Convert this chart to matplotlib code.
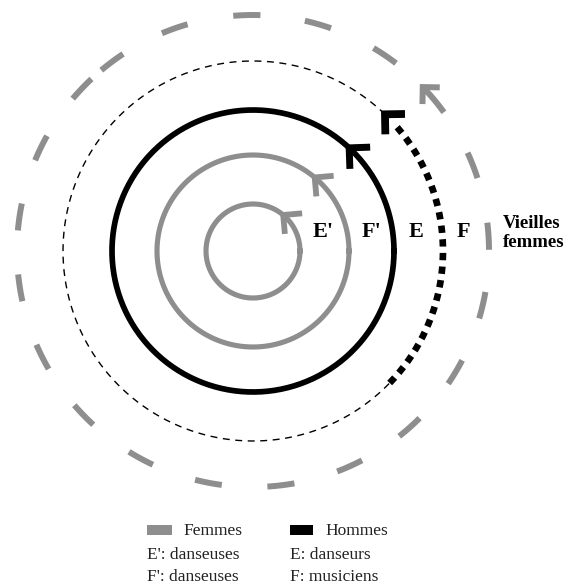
import numpy as np
import matplotlib
matplotlib.use("Agg")
import matplotlib.pyplot as plt
from matplotlib.patches import Rectangle

# rings, from the inside out
ring_labels = ["E'", "F'", "E", "F"]
ring_groups = ["Femmes", "Femmes", "Hommes", "Hommes", "Vieilles femmes"]
ring_radius = [47, 96, 141, 190, 236]
arrow_angle = [50, 50, 47, 46, 44]  # where the chevron sits (deg)

# outer broken ring (vieilles femmes): dash centres (deg)
outer_dashes = [91.5, 109.4, 126.7, 136.5, 154.1, 171.7, 189.0, 206.7, 224.1,
                241.6, 259.1, 276.8, 294.2, 311.6, 329.1, 346.7, 3.6, 21.3,
                56.0, 74.0]

# musicians ring: dotted part vs thin dashed part (deg)
dotted_span = (-44, 46)

legend_rows = [("Femmes", "Hommes"),
               ("E': danseuses", "E: danseurs"),
               ("F': danseuses", "F: musiciens")]

GREY = "#8e8e8e"
cx, cy = 253, 251


def arc(r, a0, a1, n=200):
    t = np.radians(np.linspace(a0, a1, n))
    return cx + r * np.cos(t), cy - r * np.sin(t)


def chevron(ax, r, ang, color, lw, arm=15):
    t = np.radians(ang)
    p = np.array([cx + r * np.cos(t), cy - r * np.sin(t)])
    back = np.array([np.sin(t), np.cos(t)])
    pts = []
    for s in (45, -45):
        c, si = np.cos(np.radians(s)), np.sin(np.radians(s))
        v = np.array([c * back[0] - si * back[1], si * back[0] + c * back[1]])
        pts.append(p + arm * v)
    xs = [pts[0][0], p[0], pts[1][0]]
    ys = [pts[0][1], p[1], pts[1][1]]
    ax.plot(xs, ys, color=color, lw=lw, solid_joinstyle="miter",
            solid_capstyle="butt")


fig = plt.figure(figsize=(5.65, 5.84), dpi=100)
ax = fig.add_axes([0, 0, 1, 1])
ax.set_xlim(0, 565)
ax.set_ylim(584, 0)
ax.axis("off")

# two women's rings
for i in (0, 1):
    x, y = arc(ring_radius[i], 0, 360, 400)
    ax.plot(x, y, color=GREY, lw=3.7)
    chevron(ax, ring_radius[i], arrow_angle[i], GREY, 4.2, arm=19)

# men dancers
x, y = arc(ring_radius[2], 0, 360, 400)
ax.plot(x, y, color="black", lw=4.1)
chevron(ax, ring_radius[2], arrow_angle[2], "black", 5.0, arm=21)

# musicians: dotted arc + thin dashed remainder
x, y = arc(ring_radius[3], dotted_span[1], 360 + dotted_span[0], 400)
ax.plot(x, y, color="black", lw=1.0, ls=(0, (5, 4)))
x, y = arc(ring_radius[3], dotted_span[0], dotted_span[1] - 4, 200)
ax.plot(x, y, color="black", lw=4.8, ls=(0, (1.1, 0.95)), dash_capstyle="butt")
chevron(ax, ring_radius[3], arrow_angle[3], "black", 5.6, arm=20)

# old women: broken ring
half = 3.3
for a in outer_dashes:
    x, y = arc(ring_radius[4], a - half, a + half, 20)
    ax.plot(x, y, color=GREY, lw=4.3, solid_capstyle="butt")
x, y = arc(ring_radius[4], arrow_angle[4] - 8, arrow_angle[4] - 0.5, 20)
ax.plot(x, y, color=GREY, lw=4.3, solid_capstyle="butt")
chevron(ax, ring_radius[4], arrow_angle[4], GREY, 4.3, arm=17)

# ring letters
serif = "Liberation Serif"
label_x = [323, 371, 416, 463]
for lab, lx in zip(ring_labels, label_x):
    ax.text(lx, 232, lab, family=serif, weight="bold", fontsize=16,
            ha="center", va="center")
ax.text(503, 233, "Vieilles\nfemmes", family=serif, weight="bold",
        fontsize=13.5, ha="left", va="center", linespacing=1.2)

# legend
ax.add_patch(Rectangle((147, 525), 25, 10, color=GREY, lw=0))
ax.add_patch(Rectangle((290, 525), 23, 10, color="black", lw=0))
row_y = [531, 555, 577]
for (left, right), ry in zip(legend_rows, row_y):
    lx = 183 if ry == row_y[0] else 147
    rx = 325 if ry == row_y[0] else 290
    ax.text(lx, ry, left, family=serif, fontsize=12.5, ha="left", va="center",
            color="#222222")
    ax.text(rx, ry, right, family=serif, fontsize=12.5, ha="left", va="center",
            color="#222222")

fig.savefig("out.png", dpi=100)
